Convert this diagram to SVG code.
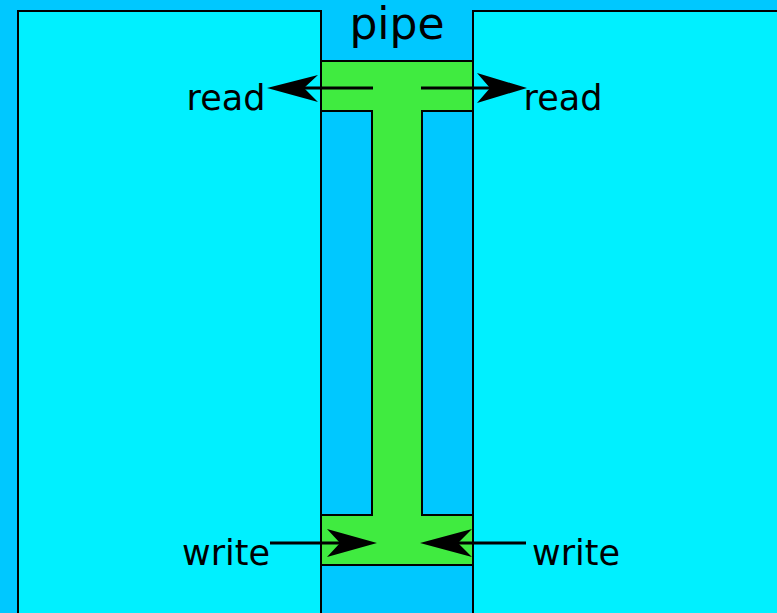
<svg xmlns="http://www.w3.org/2000/svg" width="777" height="613" viewBox="0 0 777 613">
<style>
.box{fill:#00F0FF;stroke:#000;stroke-width:2}
.slot{fill:#00C8FF;stroke:#000;stroke-width:2}
.lbl{font-family:"DejaVu Sans",sans-serif;font-size:35px;fill:#000}
.ln{stroke:#000;stroke-width:3;fill:none}
.ah{fill:#000}
</style>
<rect x="0" y="0" width="777" height="613" fill="#00C8FF"/>
<g id="left-process"><rect class="box" x="18" y="11" width="303" height="620"/></g>
<g id="right-process"><rect class="box" x="473" y="11" width="320" height="620"/></g>
<g id="pipe">
<rect class="slot" x="321" y="61" width="152" height="570"/>
<path d="M321,61 H473 V111 H422 V515 H473 V565 H321 V515 H372 V111 H321 Z" fill="#40EB40" stroke="#000" stroke-width="2"/>
<text class="lbl" x="397" y="39" text-anchor="middle" style="font-size:44px">pipe</text>
</g>
<g id="labels">
<text class="lbl" x="226" y="110" text-anchor="middle">read</text>
<text class="lbl" x="563" y="110" text-anchor="middle">read</text>
<text class="lbl" x="226" y="565" text-anchor="middle">write</text>
<text class="lbl" x="576" y="565" text-anchor="middle">write</text>
</g>
<g id="connectors">
<line class="ln" x1="373" y1="88" x2="300" y2="88"/>
<path class="ah" d="M267,88 L318,75 L304,88 L318,102 Z"/>
<line class="ln" x1="421" y1="88" x2="495" y2="88"/>
<path class="ah" d="M527,88 L477,73 L490,88 L477,103 Z"/>
<line class="ln" x1="270" y1="543" x2="345" y2="543"/>
<path class="ah" d="M377,543 L327,529 L340,543 L327,557 Z"/>
<line class="ln" x1="526" y1="543" x2="452" y2="543"/>
<path class="ah" d="M420,543 L472,529 L458,543 L472,557 Z"/>
</g>
</svg>
